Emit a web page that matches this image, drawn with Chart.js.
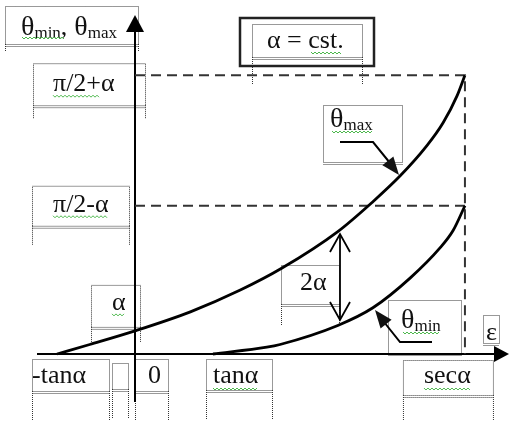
<!DOCTYPE html>
<html>
<head>
<meta charset="utf-8">
<script src="https://cdn.jsdelivr.net/npm/chart.js@4.4.1/dist/chart.umd.min.js"></script>
<style>
  html, body { margin: 0; padding: 0; background: #fff; }
  #wrap { position: relative; width: 509px; height: 421px; }
</style>
</head>
<body>
<div id="wrap"><canvas id="myChart"></canvas></div>
<script>
// tick positions along the two axes
const xTickValues = [-1, 0, 1, 4.23];
const xTickLabels = ['-tanα', '0', 'tanα', 'secα'];
const yTickValues = [0.17, 1.09, 2.05];
const yTickLabels = ['α', 'π/2-α', 'π/2+α'];

// the two curves, theta against epsilon
const thetaMaxEps  = [-1, -0.58, 0, 0.71, 1.35, 1.88, 2.6, 3.05, 3.4, 3.74, 3.95, 4.13, 4.23];
const thetaMaxVals = [0, 0.07, 0.17, 0.31, 0.47, 0.63, 0.9, 1.12, 1.31, 1.53, 1.7, 1.9, 2.05];
const thetaMinEps  = [1, 1.69, 1.86, 2.6, 3.05, 3.53, 3.91, 4.08, 4.23];
const thetaMinVals = [0, 0.05, 0.07, 0.21, 0.34, 0.56, 0.78, 0.91, 1.09];

const secA = xTickValues[3];
const yTop = yTickValues[2];
const yMid = yTickValues[1];

const toPoints = (xs, ys) => xs.map((x, i) => ({ x: x, y: ys[i] }));

const SERIF = '"Liberation Serif", "Times New Roman", serif';
const FS = 26;

function dottedBox(ctx, x, y, w, h, ext) {
    ctx.save();
    ctx.strokeStyle = '#333';
    ctx.lineWidth = 1;
    ctx.setLineDash([1, 1]);
    ctx.strokeRect(x + 0.5, y + 0.5, w, h);
    // bottom edge is doubled
    ctx.beginPath();
    ctx.moveTo(x + 0.5, y + h + 2.5);
    ctx.lineTo(x + w + 0.5, y + h + 2.5);
    if (ext) {
        ctx.moveTo(x + 0.5, y + h);
        ctx.lineTo(x + 0.5, y + h + ext);
        ctx.moveTo(x + w + 0.5, y + h);
        ctx.lineTo(x + w + 0.5, y + h + ext);
    }
    ctx.stroke();
    ctx.restore();
}

function squiggle(ctx, x0, x1, y) {
    ctx.save();
    ctx.strokeStyle = '#4cb84c';
    ctx.lineWidth = 1;
    ctx.beginPath();
    let up = true;
    ctx.moveTo(x0, y);
    for (let x = x0 + 2; x <= x1; x += 2) {
        ctx.lineTo(x, up ? y + 2 : y);
        up = !up;
    }
    ctx.stroke();
    ctx.restore();
}

function text(ctx, str, x, y, size) {
    ctx.font = size + 'px ' + SERIF;
    ctx.fillStyle = '#111';
    ctx.textAlign = 'left';
    ctx.textBaseline = 'alphabetic';
    ctx.fillText(str, x, y);
    return x + ctx.measureText(str).width;
}

function theta(ctx, sub, x, y) {
    const end = text(ctx, 'θ', x, y, 28);
    return text(ctx, sub, end, y + 3, 17);
}

function filledHead(ctx, fx, fy, tx, ty, len, half) {
    const a = Math.atan2(ty - fy, tx - fx);
    ctx.beginPath();
    ctx.moveTo(tx, ty);
    ctx.lineTo(tx - len * Math.cos(a) + half * Math.sin(a), ty - len * Math.sin(a) - half * Math.cos(a));
    ctx.lineTo(tx - len * Math.cos(a) - half * Math.sin(a), ty - len * Math.sin(a) + half * Math.cos(a));
    ctx.closePath();
    ctx.fill();
}

function openHead(ctx, tx, ty, dir) {
    ctx.beginPath();
    ctx.moveTo(tx - 10, ty + dir * 18);
    ctx.lineTo(tx, ty);
    ctx.lineTo(tx + 10, ty + dir * 18);
    ctx.stroke();
}

const sketch = {
    id: 'sketch',
    beforeDatasetsDraw(chart) {
        const ctx = chart.ctx;
        const xs = chart.scales.x, ys = chart.scales.y;
        const x0 = xs.getPixelForValue(0), y0 = ys.getPixelForValue(0);

        // text frames
        dottedBox(ctx, 5, 6, 133, 38, 7);
        dottedBox(ctx, xs.getPixelForValue(xTickValues[0]) - 25, y0 + 5, 77, 32, 30);
        dottedBox(ctx, 112, y0 + 9, 16, 26, 30);
        dottedBox(ctx, x0, y0 + 5, 33, 32, 30);
        dottedBox(ctx, xs.getPixelForValue(xTickValues[2]) - 7, y0 + 5, 66, 31, 30);
        dottedBox(ctx, xs.getPixelForValue(secA) - 62, y0 + 6, 90, 35, 25);
        dottedBox(ctx, 91, ys.getPixelForValue(yTickValues[0]) - 46, 49, 42, 16);
        dottedBox(ctx, 32, ys.getPixelForValue(yMid) - 20, 97, 40, 20);
        dottedBox(ctx, 33, ys.getPixelForValue(yTop) - 12, 112, 42, 14);
        dottedBox(ctx, 483, 315, 16, 28, 0);
        dottedBox(ctx, 252, 24, 110, 33, 27);
        dottedBox(ctx, 323, 105, 79, 57, 0);
        dottedBox(ctx, 281, 265, 58, 39, 21);
        dottedBox(ctx, 388, 300, 73, 53, 0);

        // axes with arrow heads
        ctx.save();
        ctx.strokeStyle = '#000';
        ctx.fillStyle = '#000';
        ctx.lineWidth = 2;
        ctx.beginPath();
        ctx.moveTo(37, y0);
        ctx.lineTo(498, y0);
        ctx.moveTo(x0, 402);
        ctx.lineTo(x0, 30);
        ctx.stroke();
        filledHead(ctx, 37, y0, 509, y0, 15, 8);
        filledHead(ctx, x0, 402, x0, 15, 17, 9);
        ctx.restore();
    },
    afterDatasetsDraw(chart) {
        const ctx = chart.ctx;
        const xs = chart.scales.x, ys = chart.scales.y;
        const y0 = ys.getPixelForValue(0);

        // boxed constant
        ctx.save();
        ctx.strokeStyle = '#222';
        ctx.lineWidth = 2.5;
        ctx.strokeRect(240, 18, 134, 48);
        ctx.restore();
        text(ctx, 'α = cst.', 267, 48, FS);
        squiggle(ctx, 311, 342, 52);

        // axis titles
        let e = theta(ctx, 'min', 21, 35);
        e = text(ctx, ',', e, 35, FS);
        theta(ctx, 'max', e + 7, 35);
        squiggle(ctx, 22, 64, 37);
        text(ctx, 'ε', 486, 340, FS);

        // tick labels
        const xOff = [-25, 13, 0, -41];
        xTickLabels.forEach((t, i) => {
            const x = xs.getPixelForValue(xTickValues[i]) + xOff[i];
            const end = text(ctx, t, x, y0 + 29, FS);
            if (i >= 2) squiggle(ctx, x, end, y0 + 34);
        });
        const yOff = [[112, -21], [53, 6], [53, 16]];
        yTickLabels.forEach((t, i) => {
            const y = ys.getPixelForValue(yTickValues[i]) + yOff[i][1];
            const end = text(ctx, t, yOff[i][0], y, FS);
            squiggle(ctx, yOff[i][0], i === 2 ? end - 15 : end, y + 4);
        });

        // curve labels with leader arrows
        ctx.save();
        ctx.strokeStyle = '#000';
        ctx.fillStyle = '#000';
        ctx.lineWidth = 2;
        e = theta(ctx, 'max', 330, 127);
        squiggle(ctx, 332, e, 131);
        ctx.beginPath();
        ctx.moveTo(340, 142);
        ctx.lineTo(373, 142);
        ctx.lineTo(390, 163);
        ctx.stroke();
        filledHead(ctx, 373, 142, 399, 175, 18, 7);

        e = theta(ctx, 'min', 401, 328);
        squiggle(ctx, 403, e, 332);
        ctx.beginPath();
        ctx.moveTo(432, 342);
        ctx.lineTo(400, 342);
        ctx.lineTo(384, 322);
        ctx.stroke();
        filledHead(ctx, 400, 342, 375, 310, 18, 7);

        // double arrow for the 2α gap
        ctx.lineWidth = 1.8;
        ctx.beginPath();
        ctx.moveTo(340, 234);
        ctx.lineTo(340, 320);
        ctx.stroke();
        openHead(ctx, 340, 234, 1);
        openHead(ctx, 340, 320, -1);
        ctx.restore();
        text(ctx, '2α', 300, 290, FS);
    }
};

const config = {
    type: 'scatter',
    data: {
        datasets: [
            {
                label: 'θmax',
                data: toPoints(thetaMaxEps, thetaMaxVals),
                showLine: true,
                borderColor: '#000',
                borderWidth: 2.8,
                pointRadius: 0,
                cubicInterpolationMode: 'monotone'
            },
            {
                label: 'θmin',
                data: toPoints(thetaMinEps, thetaMinVals),
                showLine: true,
                borderColor: '#000',
                borderWidth: 2.8,
                pointRadius: 0,
                cubicInterpolationMode: 'monotone'
            },
            {
                label: 'guide top',
                data: [{ x: 0, y: yTop }, { x: secA, y: yTop }, { x: secA, y: 0 }],
                showLine: true,
                borderColor: '#333',
                borderWidth: 2,
                borderDash: [10, 6],
                pointRadius: 0
            },
            {
                label: 'guide mid',
                data: [{ x: 0, y: yMid }, { x: secA, y: yMid }],
                showLine: true,
                borderColor: '#333',
                borderWidth: 2,
                borderDash: [10, 6],
                pointRadius: 0
            }
        ]
    },
    options: {
        responsive: true,
        maintainAspectRatio: false,
        animation: false,
        events: [],
        layout: { padding: 0 },
        scales: {
            x: { type: 'linear', display: false, min: -135 / 78, max: 374 / 78 },
            y: { type: 'linear', display: false, min: -67 / 136, max: 354 / 136 }
        },
        plugins: { legend: { display: false }, tooltip: { enabled: false } }
    },
    plugins: [sketch]
};

const chart = new Chart(document.getElementById('myChart').getContext('2d'), config);
</script>
</body>
</html>
